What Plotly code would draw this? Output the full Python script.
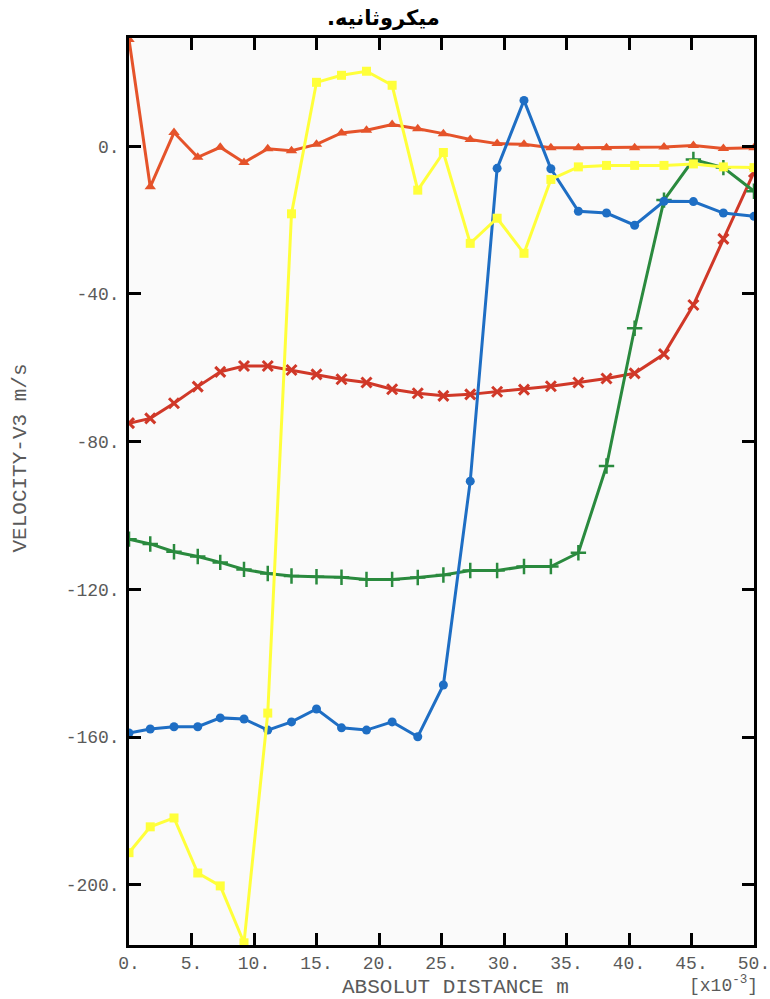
import plotly.graph_objects as go

# Stations along the path (x10^-3 m)
distance = [0, 1.7, 3.6, 5.5, 7.3, 9.2, 11.1, 13.0, 15.0, 17.0, 19.0, 21.05,
            23.1, 25.15, 27.3, 29.45, 31.6, 33.75, 35.95, 38.2, 40.45, 42.8,
            45.15, 47.55, 50.0]

# Velocity V3 (m/s) at each station, one list per time step
v_triangle = [28.9, -11.0, 3.7, -3.0, -0.3, -4.4, -0.7, -1.2, 0.5, 3.6, 4.3, 5.9,
              4.7, 3.4, 1.8, 0.7, 0.5, -0.4, -0.4, -0.4, -0.4, -0.2, 0.2, -0.6, -0.4]
v_cross = [-75.0, -73.7, -69.6, -65.1, -61.1, -59.5, -59.5, -60.6, -61.8, -63.1,
           -64.0, -65.8, -66.9, -67.6, -67.2, -66.5, -65.9, -65.0, -64.0, -62.9,
           -61.5, -56.3, -43.0, -25.1, -7.0]
v_plus = [-106.4, -107.7, -109.8, -111.1, -112.7, -114.6, -115.7, -116.4, -116.6,
          -116.7, -117.3, -117.3, -116.8, -116.1, -114.9, -114.9, -113.8, -113.8,
          -110.1, -86.6, -49.3, -14.6, -3.6, -5.8, -12.2]
v_circle = [-158.9, -157.8, -157.2, -157.2, -154.8, -155.1, -158.1, -155.9, -152.4,
            -157.5, -158.1, -155.9, -159.9, -145.9, -90.7, -6.0, 12.4, -6.1, -17.6,
            -18.1, -21.4, -14.9, -15.0, -18.1, -19.0]
v_square = [-191.3, -184.3, -181.9, -196.8, -200.3, -215.7, -153.5, -18.3, 17.3,
            19.2, 20.3, 16.5, -11.9, -1.7, -26.3, -19.5, -29.0, -9.0, -5.6, -5.2,
            -5.2, -5.2, -4.8, -5.6, -5.8]

x_ticks = [0, 5, 10, 15, 20, 25, 30, 35, 40, 45, 50]
x_tick_text = ["0.", "5.", "10.", "15.", "20.", "25.", "30.", "35.", "40.", "45.", "50."]
y_ticks = [0, -40, -80, -120, -160, -200]
y_tick_text = ["0.", "-40.", "-80.", "-120.", "-160.", "-200."]

series = [
    (v_triangle, "#E5532A", dict(symbol="triangle-up", size=10)),
    (v_cross, "#D03828", dict(symbol="x-thin-open", size=10, line=dict(width=3, color="#D03828"))),
    (v_plus, "#2A8A3E", dict(symbol="cross-thin-open", size=11, line=dict(width=2.5, color="#2A8A3E"))),
    (v_circle, "#1E6EC4", dict(symbol="circle", size=9)),
    (v_square, "#FFFF3A", dict(symbol="square", size=9)),
]

fig = go.Figure()
for values, color, marker in series:
    m = dict(color=color)
    m.update(marker)
    fig.add_trace(go.Scatter(x=distance, y=values, mode="lines+markers",
                             line=dict(color=color, width=3), marker=m,
                             showlegend=False))

mono = "Liberation Mono"
label_grey = "#5A5A5A"
axis_common = dict(showgrid=False, zeroline=False, showline=True, linecolor="black",
                   linewidth=2.5, mirror="ticks", ticks="inside", ticklen=12,
                   tickwidth=2.5, tickcolor="black", ticklabeloverflow="allow",
                   automargin=False,
                   tickfont=dict(family=mono, size=18, color=label_grey))

fig.update_xaxes(range=[0, 50], tickvals=x_ticks, ticktext=x_tick_text, **axis_common)
fig.update_yaxes(range=[-216.3, 29.3], tickvals=y_ticks, ticktext=y_tick_text,
                 ticklabelstandoff=3, **axis_common)

fig.update_layout(
    width=770, height=999,
    margin=dict(l=129, r=16, t=38, b=54, autoexpand=False),
    paper_bgcolor="white", plot_bgcolor="#FAFAFA",
    annotations=[
        dict(text="<b>میکروثانیه.\u200f</b>", xref="paper", yref="paper", x=0.5, y=1,
             xshift=-58, yanchor="middle", yshift=20, showarrow=False,
             font=dict(family="DejaVu Sans", size=21, color="black")),
        dict(text="ABSOLUT DISTANCE m", xref="paper", yref="paper", x=0.523, y=0,
             yanchor="middle", yshift=-42, showarrow=False,
             font=dict(family=mono, size=21, color=label_grey)),
        dict(text="[x10<sup>-3</sup>]", xref="paper", yref="paper", x=1.0, y=0,
             xanchor="right", yanchor="middle", xshift=6, yshift=-39, showarrow=False,
             font=dict(family=mono, size=18, color=label_grey)),
        dict(text="VELOCITY-V3 m/s", xref="paper", yref="paper", x=0, y=0.5,
             xanchor="center", yanchor="middle",
             xshift=-109, yshift=33, textangle=-90, showarrow=False,
             font=dict(family=mono, size=21, color=label_grey)),
    ],
)

fig.write_html("out.html")
